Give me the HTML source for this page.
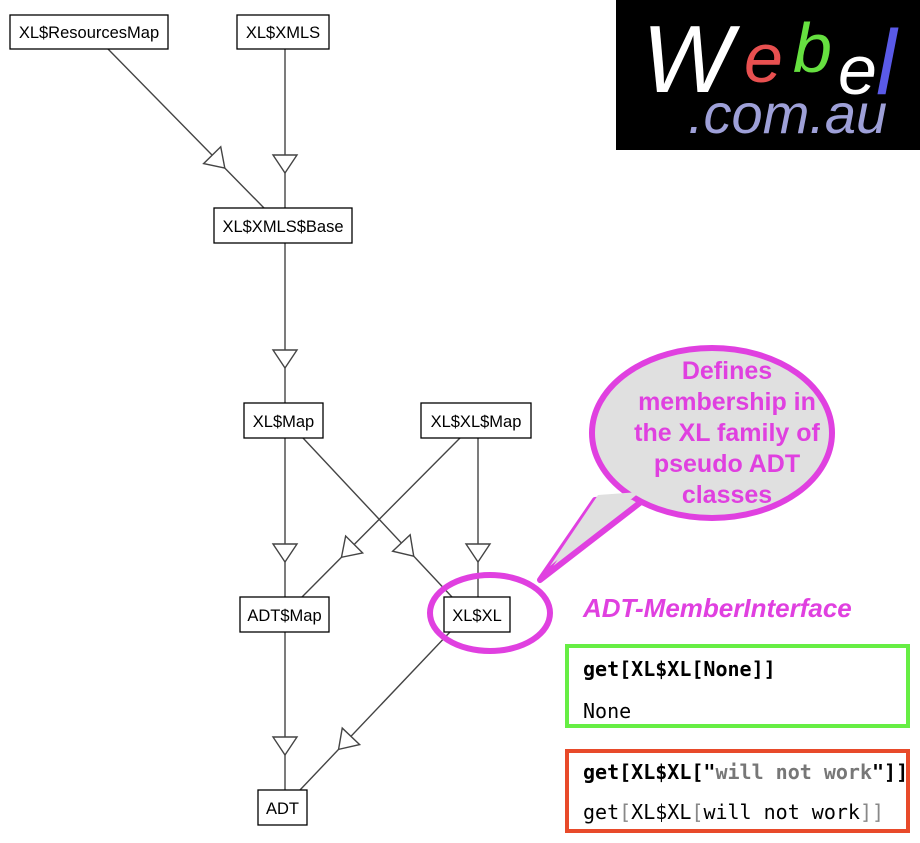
<!DOCTYPE html>
<html><head><meta charset="utf-8"><style>
html,body{margin:0;padding:0;background:#fff;width:920px;height:843px;overflow:hidden}
svg{display:block}
.n{font-family:"Liberation Sans",sans-serif;font-size:16.5px;fill:#000}
.code{font-family:"DejaVu Sans Mono","Liberation Mono",monospace;font-size:20px}
</style></head><body>
<svg id="s" width="920" height="843" viewBox="0 0 920 843" xmlns="http://www.w3.org/2000/svg">
<g id="edges" stroke="#444" stroke-width="1.4" fill="#fff"></g>
<g stroke="#000" stroke-width="1.3" fill="#fff">
<rect x="10" y="15" width="158" height="34"/>
<rect x="237" y="15" width="92" height="34"/>
<rect x="214" y="208" width="138" height="35"/>
<rect x="244" y="403" width="79" height="35"/>
<rect x="421" y="403" width="110" height="35"/>
<rect x="240" y="597" width="89" height="35"/>
<rect x="444" y="597" width="66" height="35"/>
<rect x="258" y="790" width="49" height="35"/>
</g>
<g class="n" text-anchor="middle">
<text x="89" y="38">XL$ResourcesMap</text>
<text x="283" y="38">XL$XMLS</text>
<text x="283" y="232">XL$XMLS$Base</text>
<text x="283.5" y="427">XL$Map</text>
<text x="476" y="427">XL$XL$Map</text>
<text x="284.5" y="621">ADT$Map</text>
<text x="477" y="621">XL$XL</text>
<text x="282.5" y="814">ADT</text>
</g>
<rect x="616" y="0" width="304" height="150" fill="#000"/>
<g font-family="Liberation Sans,sans-serif" font-style="italic">
<text x="642" y="92" font-size="96" fill="#fff">W</text>
<text x="744" y="82" font-size="70" fill="#e85050">e</text>
<text x="793" y="72" font-size="70" fill="#66e040">b</text>
<text x="838" y="94" font-size="70" fill="#fff">e</text>
<text x="876" y="94" font-size="92" fill="#5a5ae8">l</text>
<text x="688" y="133" font-size="56" fill="#9ea0d8">.com.au</text>
</g>
<path d="M595,500 L540,580 L650,495 Z" fill="#e0e0e0" stroke="#e040e0" stroke-width="6" stroke-linejoin="round"/>
<ellipse cx="712" cy="433" rx="120" ry="85" fill="#e0e0e0" stroke="#e040e0" stroke-width="6"/>
<path d="M598,495 L550,566 L640,492 Z" fill="#e0e0e0"/>
<g font-family="Liberation Sans,sans-serif" font-weight="bold" font-size="25" fill="#e040e0" text-anchor="middle">
<text x="727" y="379">Defines</text>
<text x="727" y="410">membership in</text>
<text x="727" y="441">the XL family of</text>
<text x="727" y="472">pseudo ADT</text>
<text x="727" y="503">classes</text>
</g>
<ellipse cx="490" cy="613" rx="60" ry="38" fill="none" stroke="#e040e0" stroke-width="6"/>
<text x="583" y="617" font-family="Liberation Sans,sans-serif" font-weight="bold" font-style="italic" font-size="26" fill="#e040e0">ADT-MemberInterface</text>
<rect x="567" y="646" width="341" height="80" fill="#fff" stroke="#66ee44" stroke-width="4"/>
<text x="583" y="676" class="code" font-weight="bold">get[XL$XL[None]]</text>
<text x="583" y="718" class="code">None</text>
<svg x="567" y="751" width="341" height="80" overflow="hidden">
<text x="16" y="28" class="code" font-weight="bold">get[XL$XL["<tspan fill="#777">will not work</tspan>"]]</text>
</svg>
<rect x="567" y="751" width="341" height="80" fill="none" stroke="#e84a2a" stroke-width="4"/>
<text x="583" y="819" class="code">get<tspan fill="#888">[</tspan>XL$XL<tspan fill="#888">[</tspan>will not work<tspan fill="#888">]]</tspan></text>
</svg>
<script>
var E=[[108,49,264,208],[285,49,285,208],[285,243,285,403],[285,438,285,597],[303,438,452,597],[460,438,302,597],[478,438,478,597],[285,632,285,790],[450,632,300,790]];
var g=document.getElementById('edges'),h='';
E.forEach(function(e){
 var dx=e[2]-e[0],dy=e[3]-e[1],L=Math.hypot(dx,dy),ux=dx/L,uy=dy/L;
 var back=(dx===0)?35:56;
 var tx=e[2]-ux*back,ty=e[3]-uy*back;
 var bx=tx-ux*18,by=ty-uy*18,px=-uy*12,py=ux*12;
 h+='<line x1="'+e[0]+'" y1="'+e[1]+'" x2="'+e[2]+'" y2="'+e[3]+'"/>';
 h+='<polygon points="'+tx+','+ty+' '+(bx+px)+','+(by+py)+' '+(bx-px)+','+(by-py)+'"/>';
});
g.innerHTML=h;
</script>
</body></html>
